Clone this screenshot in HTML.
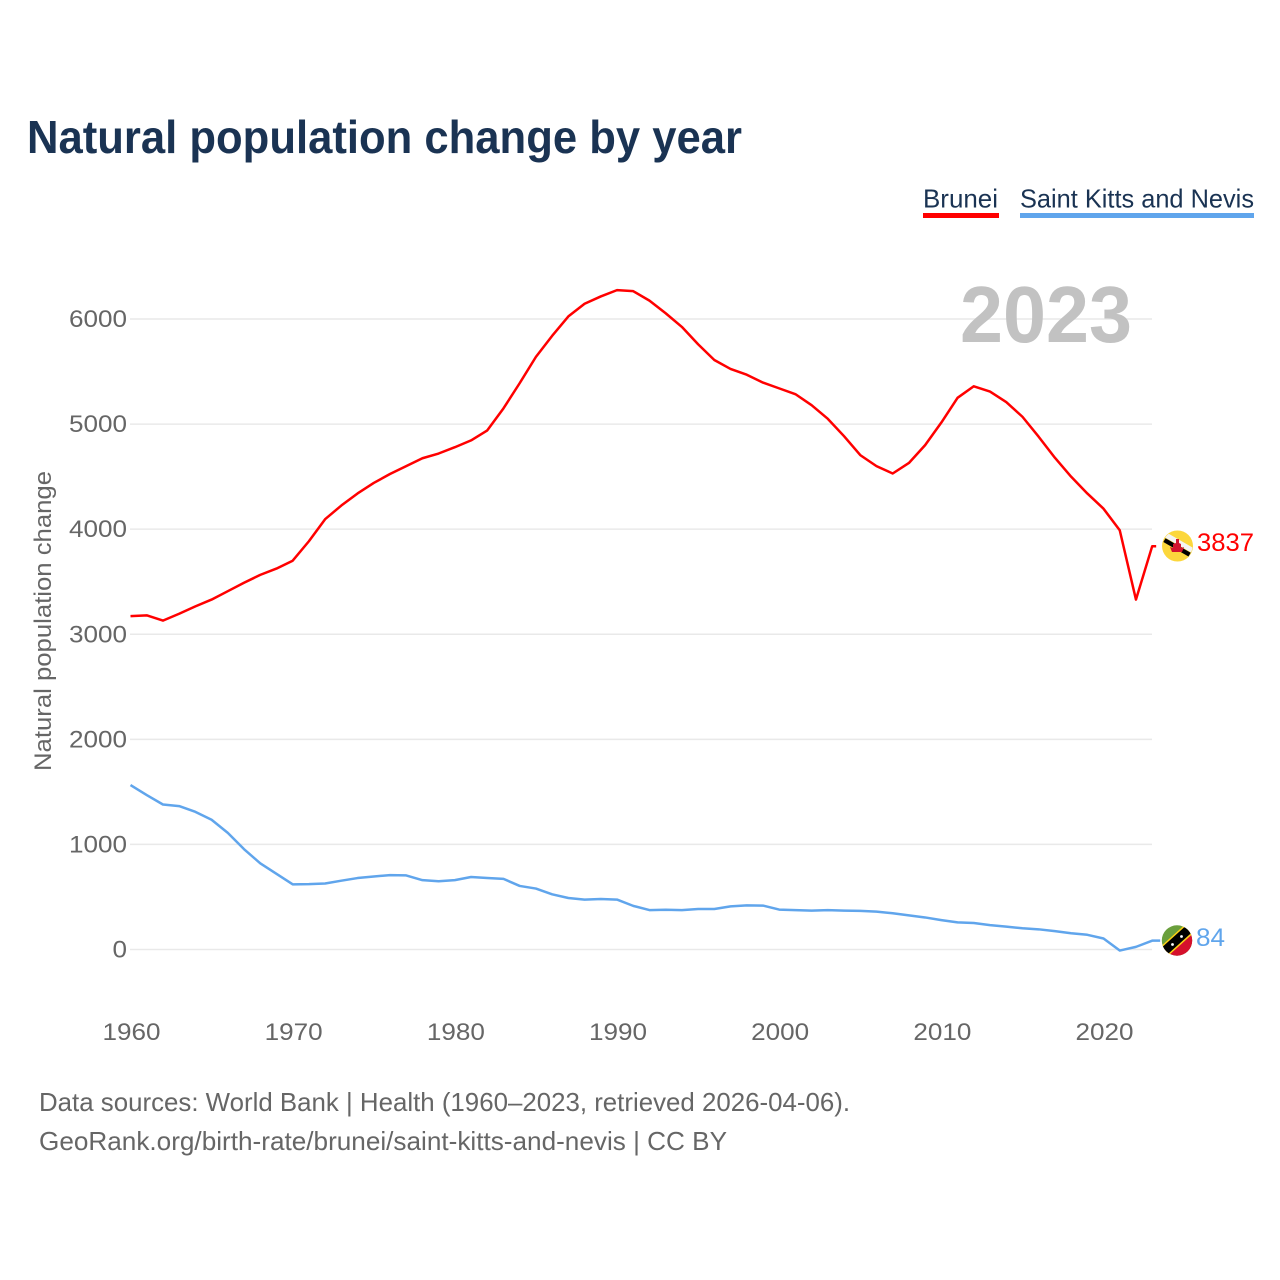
<!DOCTYPE html>
<html lang="en">
<head>
<meta charset="utf-8">
<title>Natural population change by year</title>
<style>
html,body{margin:0;padding:0;background:#fff;width:1280px;height:1280px;overflow:hidden}
svg{display:block;font-family:"Liberation Sans",sans-serif}
</style>
</head>
<body>
<svg id="chart" xmlns="http://www.w3.org/2000/svg" width="1280" height="1280" viewBox="0 0 1280 1280">
  <text x="27" y="153" font-size="46" font-weight="700" fill="#1a3353" textLength="715" lengthAdjust="spacingAndGlyphs">Natural population change by year</text>

  <g>
    <g>
      <text x="923" y="207.5" font-size="26" fill="#1a3353" textLength="75" lengthAdjust="spacingAndGlyphs">Brunei</text>
      <rect x="923" y="213" width="76" height="5" fill="#ff0000"/>
    </g>
    <g>
      <text x="1020" y="207.5" font-size="26" fill="#1a3353" textLength="234" lengthAdjust="spacingAndGlyphs">Saint Kitts and Nevis</text>
      <rect x="1020" y="213" width="234" height="5" fill="#60a5ec"/>
    </g>
  </g>

  <g id="grid"></g>
  <text x="960" y="342" font-size="80" font-weight="700" fill="#c2c2c2" textLength="172" lengthAdjust="spacingAndGlyphs">2023</text>
  <g id="yticks"></g>
  <g id="xticks"></g>
  <text transform="translate(51 771) rotate(-90)" font-size="24" fill="#666666" textLength="300" lengthAdjust="spacingAndGlyphs">Natural population change</text>
  <g id="lines"></g>

  <defs>
    <clipPath id="clip-brunei"><circle cx="1177.5" cy="546" r="15"/></clipPath>
    <clipPath id="clip-skn"><circle cx="1177" cy="940.5" r="15.2"/></clipPath>
  </defs>

  <g>
    <circle cx="1177.5" cy="546" r="15.5" fill="#fcd73c"/>
    <g clip-path="url(#clip-brunei)">
      <rect x="1155" y="539.5" width="46" height="5" fill="#f4f4f4" transform="rotate(30 1178 542)"/>
    </g>
    <rect x="1162.5" y="545.2" width="29" height="4.4" fill="#000000" transform="rotate(30 1177 547.4)"/>
    <path d="M1176 539 h3 v4 l2 1 v4 l3 -1 l-2 5 h-10 l-2 -5 l3 1 v-4 l3 -1 Z" fill="#d2122e"/>
  </g>
  <text id="label-brunei" x="1197" y="551" font-size="25" fill="#ff0000" textLength="57" lengthAdjust="spacingAndGlyphs">3837</text>

  <g>
    <g clip-path="url(#clip-skn)">
      <rect x="1160" y="923" width="34" height="35" fill="#6a9f3c"/>
      <rect x="1155" y="940.5" width="44" height="20" fill="#d5102c" transform="rotate(-42 1177 940.5)"/>
      <rect x="1155" y="934" width="44" height="12" fill="#fcd116" transform="rotate(-42 1177 940.5)"/>
      <rect x="1155" y="935.5" width="44" height="9" fill="#000000" transform="rotate(-42 1177 940.5)"/>
      <circle cx="1172.5" cy="944.5" r="1.4" fill="#ffffff"/>
      <circle cx="1181.5" cy="936.5" r="1.4" fill="#ffffff"/>
    </g>
  </g>
  <text id="label-skn" x="1196" y="946" font-size="25" fill="#60a5ec" textLength="29" lengthAdjust="spacingAndGlyphs">84</text>

  <text x="39" y="1111" font-size="26" fill="#666666" textLength="811" lengthAdjust="spacingAndGlyphs">Data sources: World Bank | Health (1960–2023, retrieved 2026-04-06).</text>
  <text x="39" y="1150" font-size="26" fill="#666666" textLength="688" lengthAdjust="spacingAndGlyphs">GeoRank.org/birth-rate/brunei/saint-kitts-and-nevis | CC BY</text>
</svg>

<script>
var startYear = 1960;
var yTickValues = [0, 1000, 2000, 3000, 4000, 5000, 6000];
var xTickValues = [1960, 1970, 1980, 1990, 2000, 2010, 2020];
var bruneiValues = [3173,3180,3130,3195,3265,3330,3410,3490,3565,3625,3700,3885,4095,4225,4340,4440,4525,4600,4675,4720,4780,4845,4940,5150,5390,5640,5840,6025,6145,6215,6275,6265,6175,6055,5925,5760,5610,5525,5470,5395,5340,5285,5180,5050,4885,4705,4600,4530,4630,4800,5015,5250,5360,5310,5210,5070,4880,4680,4500,4340,4195,3990,3330,3837];
var sknValues = [1565,1470,1380,1365,1310,1235,1110,955,820,720,620,622,628,655,680,695,708,705,660,650,660,690,680,672,605,580,525,490,475,480,475,415,375,378,375,385,385,410,420,418,380,375,370,375,370,368,360,345,325,305,280,258,252,232,218,202,192,175,155,140,105,-10,25,84];

function xScale(year) { return 130.5 + (year - 1960) * 16.217; }
function yScale(value) { return 949.5 - value * 0.10508; }

var NS = 'http://www.w3.org/2000/svg';

yTickValues.forEach(function (v) {
  var line = document.createElementNS(NS, 'line');
  
  
  line.setAttribute('x1', 130);
  line.setAttribute('x2', 1152);
  line.setAttribute('y1', yScale(v));
  line.setAttribute('y2', yScale(v));
  line.setAttribute('stroke', '#e9e9e9');
  line.setAttribute('stroke-width', '1.5');
  document.getElementById('grid').appendChild(line);

  var t = document.createElementNS(NS, 'text');
  
  
  t.setAttribute('x', 127);
  t.setAttribute('y', yScale(v) + 8);
  t.setAttribute('text-anchor', 'end');
  t.setAttribute('font-size', '24');
  t.setAttribute('fill', '#666666');
  t.setAttribute('textLength', String(v).length * 14.5);
  t.setAttribute('lengthAdjust', 'spacingAndGlyphs');
  t.textContent = v;
  document.getElementById('yticks').appendChild(t);
});

xTickValues.forEach(function (yr) {
  var t = document.createElementNS(NS, 'text');
  
  
  t.setAttribute('x', xScale(yr) + 1);
  t.setAttribute('y', 1040);
  t.setAttribute('text-anchor', 'middle');
  t.setAttribute('font-size', '24');
  t.setAttribute('fill', '#666666');
  t.setAttribute('textLength', 58);
  t.setAttribute('lengthAdjust', 'spacingAndGlyphs');
  t.textContent = yr;
  document.getElementById('xticks').appendChild(t);
});

function drawSeries(values, color, stub) {
  var d = values.map(function (v, i) {
    return (i ? 'L' : 'M') + xScale(startYear + i).toFixed(2) + ' ' + yScale(v).toFixed(2);
  }).join(' ');
  d += ' h' + stub;
  var p = document.createElementNS(NS, 'path');
  p.setAttribute('d', d);
  p.setAttribute('fill', 'none');
  p.setAttribute('stroke', color);
  p.setAttribute('stroke-width', '2.5');
  p.setAttribute('stroke-linejoin', 'round');
  return p;
}

var bruneiLine = drawSeries(bruneiValues, '#ff0000', 4);


document.getElementById('lines').appendChild(bruneiLine);

var sknLine = drawSeries(sknValues, '#60a5ec', 8);


document.getElementById('lines').appendChild(sknLine);
</script>
</body>
</html>
